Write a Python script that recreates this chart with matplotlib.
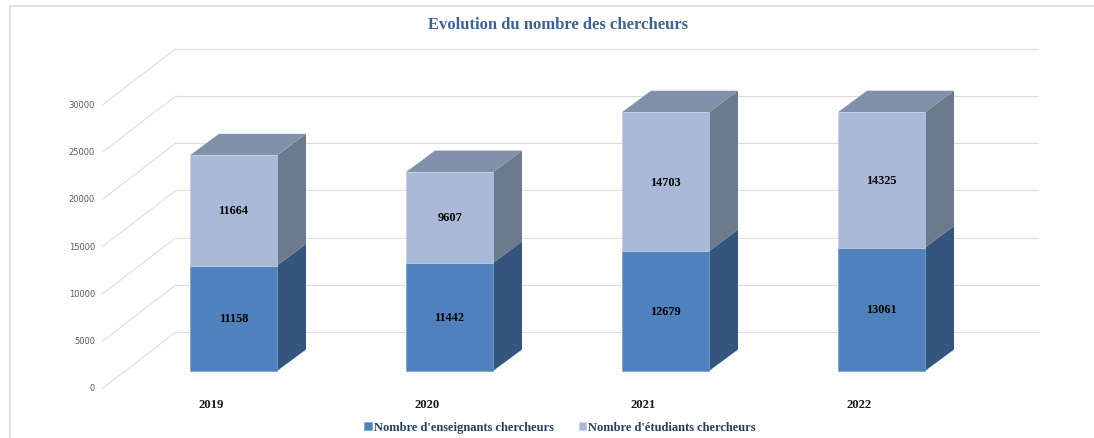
import numpy as np
import matplotlib
matplotlib.use("Agg")
import matplotlib.pyplot as plt
from matplotlib.lines import Line2D


years = ["2019", "2020", "2021", "2022"]
enseignants = [11158, 11442, 12679, 13061]
etudiants = [11664, 9607, 14703, 14325]
y_ticks = [0, 5000, 10000, 15000, 20000, 25000, 30000]

title = "Evolution du nombre des chercheurs"
labels = ["Nombre d'enseignants chercheurs", "Nombre d'étudiants chercheurs"]

# colours (front, side, top)
C_DARK = ("#4f81bd", "#34557d", "#4a6f9c")
C_LIGHT = ("#aab9d7", "#6d798d", "#8191a9")
GRID = "#dcdcdc"
SERIF = "Liberation Serif"

W, H = 1094, 439
PX_X = 216.0       # pixels per category
PX_Y = 0.00945     # pixels per unit
X0, Y0 = 233.5, 372.0   # pixel of first bar centre / base

fig = plt.figure(figsize=(W / 100, H / 100), dpi=100)
ax = fig.add_axes([0, 0, 1, 1])
ax.set_xlim((0 - X0) / PX_X, (W - X0) / PX_X)
ax.set_ylim((Y0 - H) / PX_Y, Y0 / PX_Y)
ax.axis("off")


def px_x(p):
    return (p - X0) / PX_X


def px_dy(p):
    # pixel offset (upwards) -> value units
    return p / PX_Y


# 3d offsets
bar_w = 87 / PX_X
dx, dy = 29 / PX_X, px_dy(21.5)
wall_front, wall_back = px_x(103), px_x(176)
wall_right = px_x(1038)
front_off, back_off = px_dy(-17), px_dy(39)

# walls / gridlines
for v in y_ticks:
    ax.plot([wall_front, wall_back], [v + front_off, v + back_off],
            color=GRID, lw=0.8, zorder=1)
    ax.plot([wall_back, wall_right], [v + back_off, v + back_off],
            color=GRID, lw=0.8, zorder=1)
    ax.text(px_x(95), v + front_off, str(v), ha="right", va="center",
            fontsize=6, color="#595959", family="DejaVu Sans")

x = np.arange(len(years))
ens = np.array(enseignants)
etu = np.array(etudiants)
tot = ens + etu

b1 = ax.bar(x, ens, width=bar_w, color=C_DARK[0], edgecolor="#7fa3cf",
            lw=0.5, zorder=3, label=labels[0])
b2 = ax.bar(x, etu, bottom=ens, width=bar_w, color=C_LIGHT[0],
            edgecolor="#c4cfe4", lw=0.5, zorder=3, label=labels[1])

for i in x:
    xl, xr = i - bar_w / 2, i + bar_w / 2
    # side faces
    ax.fill([xr, xr + dx, xr + dx, xr], [0, dy, ens[i] + dy, ens[i]],
            color=C_DARK[1], lw=0, zorder=2)
    ax.fill([xr, xr + dx, xr + dx, xr],
            [ens[i], ens[i] + dy, tot[i] + dy, tot[i]],
            color=C_LIGHT[1], lw=0, zorder=2)
    # top face
    ax.fill([xl, xl + dx, xr + dx, xr],
            [tot[i], tot[i] + dy, tot[i] + dy, tot[i]],
            color=C_LIGHT[2], lw=0, zorder=2)
    # value labels
    ax.text(i, ens[i] / 2, str(ens[i]), ha="center", va="center",
            fontsize=8.8, fontweight="bold", family=SERIF, color="black",
            zorder=5)
    ax.text(i, ens[i] + etu[i] / 2, str(etu[i]), ha="center", va="center",
            fontsize=8.8, fontweight="bold", family=SERIF, color="black",
            zorder=5)
    ax.text(i - 22 / PX_X, px_dy(Y0 - 405), years[i], ha="center",
            va="center", fontsize=9.2, fontweight="bold", family=SERIF,
            color="#1a1a1a")

fig.text(558 / W, 1 - 25 / H, title, ha="center", va="center",
         fontsize=12, fontweight="bold", family=SERIF, color="#3e6293")

leg = ax.legend(handles=[b1, b2], loc="center", ncol=2,
                bbox_to_anchor=(560 / W, 1 - 428 / H), frameon=False,
                prop={"family": SERIF, "weight": "bold", "size": 9},
                labelcolor="#243f60", handlelength=0.6, handleheight=0.6,
                handletextpad=0.15, columnspacing=2.0)

# chart border (left and top edges visible)
fig.add_artist(Line2D([10 / W, 10 / W], [0, 1 - 7 / H], color=GRID, lw=1.2))
fig.add_artist(Line2D([10 / W, 1], [1 - 7 / H, 1 - 7 / H], color=GRID, lw=1.2))

fig.savefig("out.png", dpi=100)
